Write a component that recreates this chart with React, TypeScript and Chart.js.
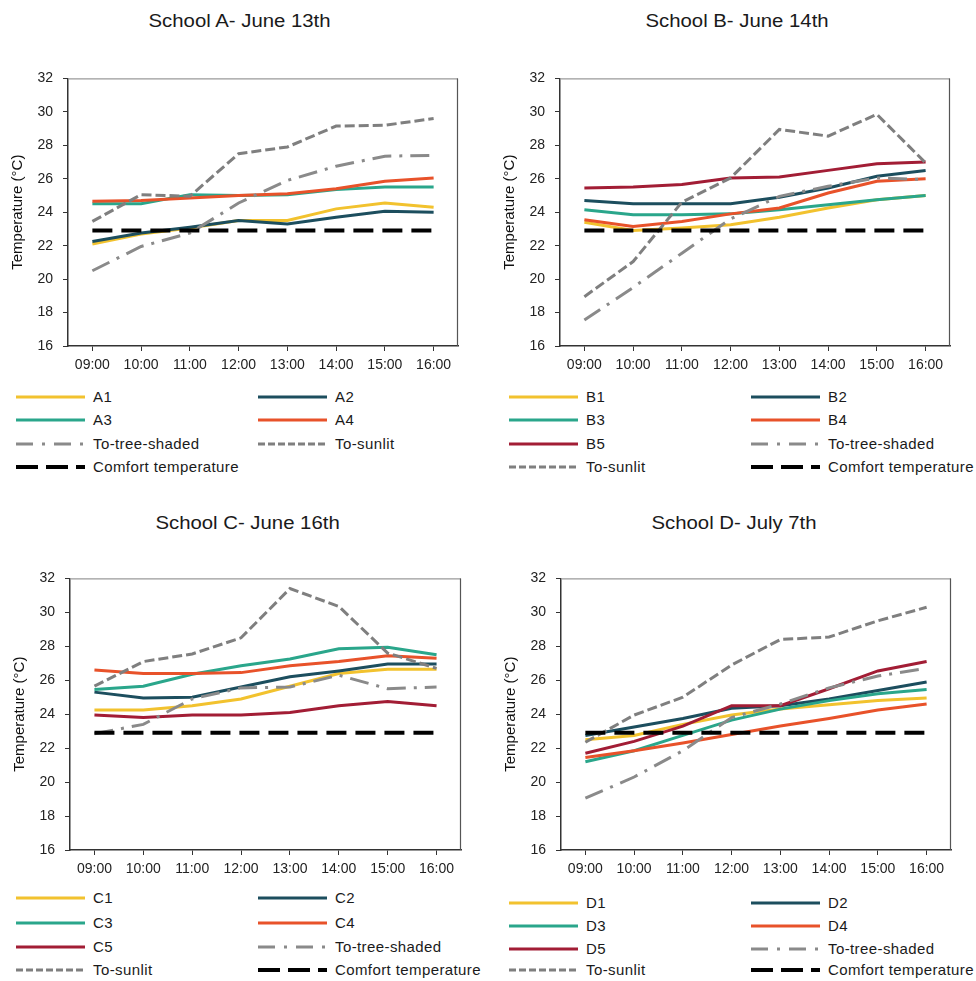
import React, { useEffect, useRef } from 'react';
import { Chart, registerables } from 'chart.js';

Chart.register(...registerables);

// ---------- data ----------
const times = ['09:00', '10:00', '11:00', '12:00', '13:00', '14:00', '15:00', '16:00'];
const comfortTemperature = 22.9;
const yMin = 16;
const yMax = 32;
const yStep = 2;

const schoolANames = ['A1', 'A2', 'A3', 'A4'];
const a1 = [22.1, 22.7, 23.05, 23.5, 23.5, 24.2, 24.55, 24.3];
const a2 = [22.25, 22.75, 23.1, 23.5, 23.3, 23.7, 24.05, 24.0];
const a3 = [24.5, 24.5, 25.05, 25.0, 25.05, 25.35, 25.5, 25.5];
const a4 = [24.65, 24.7, 24.85, 25.0, 25.1, 25.4, 25.85, 26.05];
const aTree = [20.5, 21.95, 22.75, 24.55, 25.9, 26.75, 27.35, 27.4];
const aSunlit = [23.45, 25.05, 24.95, 27.5, 27.9, 29.15, 29.2, 29.6];

const schoolBNames = ['B1', 'B2', 'B3', 'B4', 'B5'];
const b1 = [23.4, 22.9, 23.05, 23.25, 23.7, 24.25, 24.75, 25.0];
const b2 = [24.7, 24.5, 24.5, 24.5, 24.9, 25.45, 26.15, 26.5];
const b3 = [24.15, 23.85, 23.85, 23.9, 24.15, 24.45, 24.75, 25.0];
const b4 = [23.55, 23.15, 23.45, 23.9, 24.25, 25.15, 25.85, 26.0];
const b5 = [25.45, 25.5, 25.65, 26.05, 26.1, 26.5, 26.9, 27.0];
const bTree = [17.55, 19.5, 21.55, 23.6, 24.95, 25.55, 26.05, 25.95];
const bSunlit = [18.95, 21.05, 24.6, 26.05, 28.95, 28.55, 29.85, 26.95];

const schoolCNames = ['C1', 'C2', 'C3', 'C4', 'C5'];
const c1 = [24.25, 24.25, 24.5, 24.9, 25.65, 26.4, 26.65, 26.65];
const c2 = [25.3, 24.95, 25.0, 25.6, 26.2, 26.55, 26.95, 26.95];
const c3 = [25.45, 25.65, 26.35, 26.85, 27.25, 27.85, 27.95, 27.5];
const c4 = [26.6, 26.4, 26.4, 26.45, 26.85, 27.1, 27.45, 27.3];
const c5 = [23.95, 23.8, 23.95, 23.95, 24.1, 24.5, 24.75, 24.5];
const cTree = [22.85, 23.4, 24.9, 25.55, 25.6, 26.3, 25.5, 25.6];
const cSunlit = [25.65, 27.1, 27.55, 28.5, 31.4, 30.35, 27.6, 26.7];

const schoolDNames = ['D1', 'D2', 'D3', 'D4', 'D5'];
const d1 = [22.5, 22.75, 23.4, 23.95, 24.3, 24.55, 24.8, 24.95];
const d2 = [22.75, 23.25, 23.75, 24.35, 24.5, 24.9, 25.4, 25.9];
const d3 = [21.2, 21.85, 22.75, 23.65, 24.3, 24.8, 25.2, 25.45];
const d4 = [21.45, 21.85, 22.3, 22.8, 23.3, 23.75, 24.25, 24.6];
const d5 = [21.7, 22.4, 23.3, 24.5, 24.5, 25.5, 26.55, 27.1];
const dTree = [19.05, 20.3, 21.85, 23.8, 24.6, 25.55, 26.25, 26.7];
const dSunlit = [22.35, 23.95, 25.0, 26.9, 28.4, 28.55, 29.5, 30.3];

const treeLabel = 'To-tree-shaded';
const sunlitLabel = 'To-sunlit';
const comfortLabel = 'Comfort temperature';
const yTitle = 'Temperature (°C)';

// ---------- styles ----------
const FONT = "'Liberation Sans', Arial, sans-serif";
const seriesColors = ['#f2c22e', '#1c4e5e', '#2aa68b', '#e8522a', '#a21d35'];
const seriesWidth = 3;
const treeStyle = { color: '#8a8a8a', dash: [19, 8, 3, 8], width: 3 };
const sunStyle = { color: '#7f7f7f', dash: [10, 4], width: 3 };
const comfortStyle = { color: '#000000', dash: [20, 9], width: 4 };

type PanelCfg = {
  title: string;
  titleX: number;
  titleY: number;
  canvasLeft: number;
  canvasTop: number;
  canvasW: number;
  canvasH: number;
  axisX: number;
  plotTop: number;
  plotRight: number;
  plotBottom: number;
  legendX: number;
  legendRows: number[];
  names: string[];
  values: number[][];
  tree: number[];
  sunlit: number[];
};

const panels: PanelCfg[] = [
  {
    title: 'School A- June 13th', titleX: 240, titleY: 21,
    canvasLeft: 0, canvasTop: 60, canvasW: 470, canvasH: 320,
    axisX: 68, plotTop: 76, plotRight: 458, plotBottom: 346,
    legendX: 16, legendRows: [397, 420, 444, 467],
    names: schoolANames, values: [a1, a2, a3, a4], tree: aTree, sunlit: aSunlit,
  },
  {
    title: 'School B- June 14th', titleX: 737, titleY: 21,
    canvasLeft: 490, canvasTop: 60, canvasW: 470, canvasH: 320,
    axisX: 560, plotTop: 76, plotRight: 950, plotBottom: 346,
    legendX: 509, legendRows: [397, 420, 444, 467],
    names: schoolBNames, values: [b1, b2, b3, b4, b5], tree: bTree, sunlit: bSunlit,
  },
  {
    title: 'School C- June 16th', titleX: 248, titleY: 523,
    canvasLeft: 0, canvasTop: 560, canvasW: 470, canvasH: 324,
    axisX: 70, plotTop: 577, plotRight: 461, plotBottom: 850,
    legendX: 16, legendRows: [898, 923, 947, 970],
    names: schoolCNames, values: [c1, c2, c3, c4, c5], tree: cTree, sunlit: cSunlit,
  },
  {
    title: 'School D- July 7th', titleX: 734, titleY: 523,
    canvasLeft: 490, canvasTop: 560, canvasW: 470, canvasH: 324,
    axisX: 561, plotTop: 577, plotRight: 951, plotBottom: 850,
    legendX: 509, legendRows: [903, 926, 949, 970],
    names: schoolDNames, values: [d1, d2, d3, d4, d5], tree: dTree, sunlit: dSunlit,
  },
];

const framePlugin = {
  id: 'frame',
  beforeDatasetsDraw(chart: any) {
    const { ctx, chartArea } = chart;
    ctx.save();
    ctx.lineWidth = 1.2;
    ctx.strokeStyle = '#9a9a9a';
    ctx.beginPath();
    ctx.moveTo(chartArea.left, chartArea.top + 0.5);
    ctx.lineTo(chartArea.right, chartArea.top + 0.5);
    ctx.stroke();
    ctx.strokeStyle = '#555555';
    ctx.beginPath();
    ctx.moveTo(chartArea.right - 0.5, chartArea.top);
    ctx.lineTo(chartArea.right - 0.5, chartArea.bottom);
    ctx.stroke();
    ctx.restore();
  },
};

function buildDatasets(p: PanelCfg) {
  const n = p.names.length;
  const ds: any[] = p.names.map((name, i) => ({
    label: name,
    data: p.values[i],
    borderColor: seriesColors[i],
    backgroundColor: seriesColors[i],
    borderWidth: seriesWidth,
    pointRadius: 0,
    fill: false,
    tension: 0,
    order: 3 + (n - i),
  }));
  ds.push({
    label: treeLabel, data: p.tree, borderColor: treeStyle.color, borderWidth: treeStyle.width,
    borderDash: treeStyle.dash, pointRadius: 0, fill: false, tension: 0, order: 2,
  });
  ds.push({
    label: sunlitLabel, data: p.sunlit, borderColor: sunStyle.color, borderWidth: sunStyle.width,
    borderDash: sunStyle.dash, pointRadius: 0, fill: false, tension: 0, order: 1,
  });
  ds.push({
    label: comfortLabel, data: times.map(() => comfortTemperature), borderColor: comfortStyle.color,
    borderWidth: comfortStyle.width, borderDash: comfortStyle.dash, pointRadius: 0, fill: false,
    tension: 0, order: 0,
  });
  return ds;
}

function ChartPanel({ p }: { p: PanelCfg }) {
  const ref = useRef<HTMLCanvasElement | null>(null);
  useEffect(() => {
    if (!ref.current) return;
    const yAxisWidth = p.axisX - p.canvasLeft;
    const xAxisHeight = p.canvasTop + p.canvasH - p.plotBottom;
    const titlePad = yAxisWidth - 50 - 9;
    const chart = new Chart(ref.current, {
      type: 'line',
      data: { labels: times, datasets: buildDatasets(p) },
      plugins: [framePlugin],
      options: {
        animation: false,
        responsive: false,
        maintainAspectRatio: false,
        layout: {
          padding: {
            top: p.plotTop - p.canvasTop,
            right: p.canvasLeft + p.canvasW - p.plotRight,
            left: 0,
            bottom: 0,
          },
        },
        plugins: {
          legend: { display: false },
          tooltip: { enabled: false },
          title: { display: false },
        },
        scales: {
          x: {
            type: 'category',
            offset: true,
            grid: {
              display: true, drawOnChartArea: false, drawTicks: true, tickLength: 5,
              color: '#333333', offset: false,
            },
            border: { display: true, color: '#333333', width: 1.5 },
            ticks: {
              color: '#222222', font: { family: FONT, size: 14 }, padding: 6,
              maxRotation: 0, autoSkip: false,
            },
            afterFit: (s: any) => { s.height = xAxisHeight; },
          },
          y: {
            min: yMin,
            max: yMax,
            grid: {
              display: true, drawOnChartArea: false, drawTicks: true, tickLength: 5,
              color: '#333333',
            },
            border: { display: true, color: '#333333', width: 1.5 },
            ticks: {
              stepSize: yStep, color: '#222222', font: { family: FONT, size: 14 }, padding: 10,
            },
            title: {
              display: true, text: yTitle, color: '#111111',
              font: { family: FONT, size: 15 }, padding: { top: titlePad, bottom: 0 },
            },
            afterFit: (s: any) => { s.width = yAxisWidth; },
          },
        },
      } as any,
    });
    return () => chart.destroy();
  }, [p]);
  return (
    <canvas
      ref={ref}
      width={p.canvasW}
      height={p.canvasH}
      style={{
        position: 'absolute', left: p.canvasLeft, top: p.canvasTop,
        width: p.canvasW, height: p.canvasH,
      }}
    />
  );
}

function LegendSample({ kind, color }: { kind: string; color: string }) {
  let dash = '';
  let width = 3;
  let stroke = color;
  if (kind === 'tree') { dash = '17,9,3,9'; stroke = treeStyle.color; }
  if (kind === 'sun') { dash = '7,3'; stroke = sunStyle.color; }
  if (kind === 'comfort') { dash = '22,8'; width = 4; stroke = comfortStyle.color; }
  return (
    <svg width={69} height={8} style={{ display: 'block' }}>
      <line x1={0} y1={4} x2={69} y2={4} stroke={stroke} strokeWidth={width}
        strokeDasharray={dash || undefined} />
    </svg>
  );
}

function Legend({ p }: { p: PanelCfg }) {
  const items: { label: string; kind: string; color: string }[] = p.names.map((n, i) => ({
    label: n, kind: 'series', color: seriesColors[i],
  }));
  items.push({ label: treeLabel, kind: 'tree', color: treeStyle.color });
  items.push({ label: sunlitLabel, kind: 'sun', color: sunStyle.color });
  items.push({ label: comfortLabel, kind: 'comfort', color: comfortStyle.color });
  return (
    <>
      {items.map((it, i) => {
        const col = i % 2;
        const row = Math.floor(i / 2);
        const x = p.legendX + col * 242;
        const y = p.legendRows[row];
        return (
          <div key={i} style={{
            position: 'absolute', left: x, top: y - 10, height: 20,
            display: 'flex', alignItems: 'center', whiteSpace: 'nowrap',
          }}>
            <LegendSample kind={it.kind} color={it.color} />
            <span style={{
              marginLeft: 8, fontFamily: FONT, fontSize: 15, color: '#1a1a1a',
              letterSpacing: 0.4, lineHeight: '20px',
            }}>{it.label}</span>
          </div>
        );
      })}
    </>
  );
}

function Title({ p }: { p: PanelCfg }) {
  return (
    <div style={{
      position: 'absolute', left: p.titleX - 160, top: p.titleY - 12, width: 320,
      textAlign: 'center', fontFamily: FONT, fontSize: 18, lineHeight: '24px', color: '#1a1a1a',
    }}>
      <span style={{ display: 'inline-block', transform: 'scaleX(1.13)' }}>{p.title}</span>
    </div>
  );
}

export default function App() {
  return (
    <div style={{
      position: 'absolute', left: 0, top: 0, width: 976, height: 981,
      overflow: 'hidden', background: '#ffffff',
    }}>
      {panels.map((p, i) => (
        <React.Fragment key={i}>
          <Title p={p} />
          <ChartPanel p={p} />
          <Legend p={p} />
        </React.Fragment>
      ))}
    </div>
  );
}
